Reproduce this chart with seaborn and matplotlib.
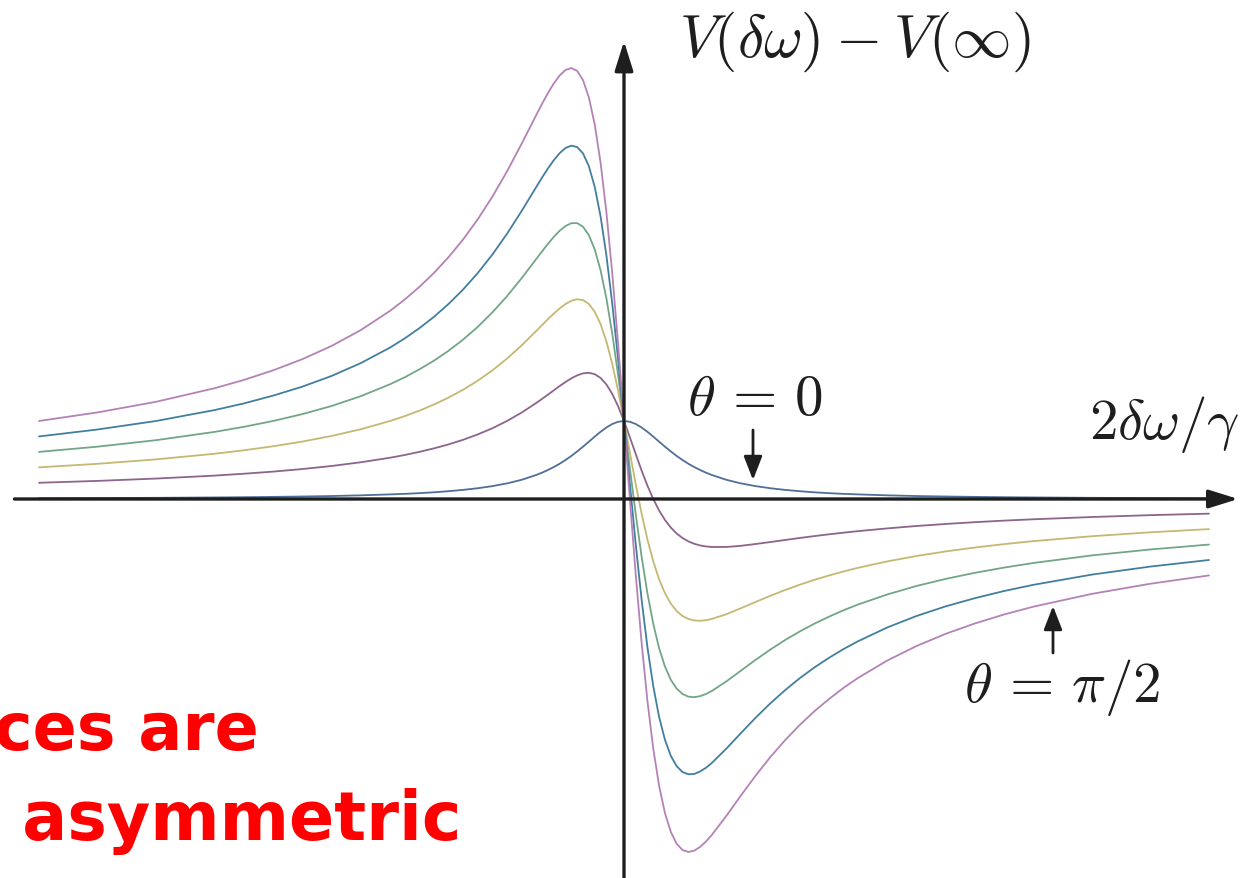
import numpy as np
import pandas as pd
import matplotlib
matplotlib.use("Agg")
import matplotlib.pyplot as plt
import seaborn as sns

# Normalised detuning 2*delta_omega/gamma
detuning = [-10, -9, -8, -7, -6.5, -6, -5.5, -5, -4.5, -4,
            -3.75, -3.5, -3.25, -3, -2.75, -2.5, -2.25, -2, -1.75,
            -1.5, -1.4, -1.3, -1.2, -1.1, -1.0, -0.9, -0.8, -0.7, -0.6,
            -0.5, -0.4, -0.3, -0.2, -0.1,
            0,
            0.1, 0.2, 0.3, 0.4, 0.5, 0.6, 0.7, 0.8, 0.9, 1.0,
            1.1, 1.2, 1.3, 1.4, 1.5,
            1.75, 2, 2.25, 2.5, 2.75, 3, 3.25, 3.5, 3.75,
            4, 4.5, 5, 5.5, 6, 6.5, 7, 8, 9, 10]

# V(delta_omega) - V(inf) for each line shape, from theta = 0 to theta = pi/2
shape_0 = [0.010, 0.012, 0.015, 0.020, 0.023, 0.027, 0.032, 0.038, 0.047, 0.059,
           0.066, 0.075, 0.086, 0.100, 0.117, 0.138, 0.165, 0.200, 0.246,
           0.308, 0.338, 0.372, 0.410, 0.452, 0.500, 0.552, 0.610, 0.671, 0.735,
           0.800, 0.862, 0.917, 0.962, 0.990,
           1.000,
           0.990, 0.962, 0.917, 0.862, 0.800, 0.735, 0.671, 0.610, 0.552, 0.500,
           0.452, 0.410, 0.372, 0.338, 0.308,
           0.246, 0.200, 0.165, 0.138, 0.117, 0.100, 0.086, 0.075, 0.066,
           0.059, 0.047, 0.038, 0.032, 0.027, 0.023, 0.020, 0.015, 0.012, 0.010]
shape_1 = [0.208, 0.232, 0.262, 0.300, 0.324, 0.351, 0.384, 0.423, 0.471, 0.529,
           0.564, 0.604, 0.649, 0.700, 0.759, 0.828, 0.907, 1.000, 1.108,
           1.231, 1.284, 1.338, 1.393, 1.448, 1.500, 1.547, 1.585, 1.611, 1.618,
           1.600, 1.552, 1.468, 1.346, 1.188,
           1.000,
           0.792, 0.577, 0.367, 0.172, 0.000, -0.147, -0.269, -0.366, -0.442, -0.500,
           -0.543, -0.574, -0.595, -0.608, -0.615,
           -0.615, -0.600, -0.577, -0.552, -0.526, -0.500, -0.476, -0.453, -0.432,
           -0.412, -0.377, -0.346, -0.320, -0.297, -0.277, -0.260, -0.231, -0.207, -0.188]
shape_2 = [0.406, 0.451, 0.508, 0.580, 0.624, 0.676, 0.736, 0.808, 0.894, 1.000,
           1.062, 1.132, 1.211, 1.300, 1.401, 1.517, 1.649, 1.800, 1.969,
           2.154, 2.230, 2.305, 2.377, 2.443, 2.500, 2.541, 2.561, 2.550, 2.500,
           2.400, 2.241, 2.018, 1.731, 1.386,
           1.000,
           0.594, 0.192, -0.184, -0.517, -0.800, -1.029, -1.208, -1.341, -1.436, -1.500,
           -1.538, -1.557, -1.561, -1.554, -1.538,
           -1.477, -1.400, -1.320, -1.241, -1.168, -1.100, -1.038, -0.981, -0.930,
           -0.882, -0.800, -0.731, -0.672, -0.622, -0.578, -0.540, -0.477, -0.427, -0.386]
shape_3 = [0.604, 0.671, 0.754, 0.860, 0.925, 1.000, 1.088, 1.192, 1.318, 1.471,
           1.560, 1.661, 1.773, 1.900, 2.044, 2.207, 2.392, 2.600, 2.831,
           3.077, 3.176, 3.271, 3.361, 3.439, 3.500, 3.536, 3.537, 3.490, 3.382,
           3.200, 2.931, 2.569, 2.115, 1.584,
           1.000,
           0.396, -0.192, -0.734, -1.207, -1.600, -1.912, -2.148, -2.317, -2.431, -2.500,
           -2.534, -2.541, -2.528, -2.500, -2.462,
           -2.338, -2.200, -2.062, -1.931, -1.810, -1.700, -1.600, -1.510, -1.427,
           -1.353, -1.224, -1.115, -1.024, -0.946, -0.879, -0.820, -0.723, -0.647, -0.584]
shape_4 = [0.802, 0.891, 1.000, 1.140, 1.225, 1.325, 1.440, 1.577, 1.742, 1.941,
           2.058, 2.189, 2.335, 2.500, 2.686, 2.897, 3.134, 3.400, 3.692,
           4.000, 4.122, 4.238, 4.344, 4.434, 4.500, 4.530, 4.512, 4.430, 4.265,
           4.000, 3.621, 3.119, 2.500, 1.782,
           1.000,
           0.198, -0.577, -1.284, -1.897, -2.400, -2.794, -3.087, -3.293, -3.425, -3.500,
           -3.529, -3.525, -3.494, -3.446, -3.385,
           -3.200, -3.000, -2.804, -2.621, -2.453, -2.300, -2.162, -2.038, -1.925,
           -1.824, -1.647, -1.500, -1.376, -1.271, -1.179, -1.100, -0.969, -0.866, -0.782]
shape_5 = [1.000, 1.110, 1.246, 1.420, 1.526, 1.649, 1.792, 1.962, 2.165, 2.412,
           2.556, 2.718, 2.897, 3.100, 3.328, 3.586, 3.876, 4.200, 4.554,
           4.923, 5.068, 5.204, 5.328, 5.430, 5.500, 5.525, 5.488, 5.369, 5.147,
           4.800, 4.310, 3.670, 2.885, 1.980,
           1.000,
           0.000, -0.962, -1.835, -2.586, -3.200, -3.676, -4.027, -4.268, -4.420, -4.500,
           -4.525, -4.508, -4.461, -4.392, -4.308,
           -4.062, -3.800, -3.546, -3.310, -3.095, -2.900, -2.724, -2.567, -2.423,
           -2.294, -2.071, -1.885, -1.728, -1.595, -1.480, -1.380, -1.216, -1.086, -0.980]

shape_names = ["s0", "s1", "s2", "s3", "s4", "s5"]
shape_colors = ["#4f6f98", "#8c648c", "#c4b872", "#72a686", "#427f9f", "#b482b6"]

frames = []
for name, vals in zip(shape_names, [shape_0, shape_1, shape_2, shape_3, shape_4, shape_5]):
    frames.append(pd.DataFrame({"x": detuning, "v": vals, "shape": name}))
df = pd.concat(frames, ignore_index=True)

sns.set_theme(style="white")
plt.rcParams["mathtext.fontset"] = "cm"
plt.rcParams["font.family"] = ["DejaVu Sans"]

W, H = 1243, 879
fig = plt.figure(figsize=(W / 100, H / 100), dpi=100)
ax = fig.add_axes([0, 0, 1, 1])
ax.set_xlim(-624 / 58.5, (W - 624) / 58.5)
ax.set_ylim((500 - H) / 78, 500 / 78)
ax.axis("off")

sns.lineplot(data=df, x="x", y="v", hue="shape", palette=shape_colors,
             hue_order=shape_names, sort=False, estimator=None, legend=False,
             lw=1.3, ax=ax)

axis_color = "#1e1e1e"
head = "-|>,head_length=0.9,head_width=0.28"
ax.annotate("", xy=(10.5, 0), xytext=(-10.42, 0),
            arrowprops=dict(arrowstyle=head, lw=2.4, color=axis_color,
                            mutation_scale=20, shrinkA=0, shrinkB=0))
ax.annotate("", xy=(0, 5.87), xytext=(0, -4.9),
            arrowprops=dict(arrowstyle=head, lw=2.4, color=axis_color,
                            mutation_scale=20, shrinkA=0, shrinkB=0))

def px(xp, yp):
    return xp / W, 1 - yp / H

label_kw = dict(transform=fig.transFigure, color="#1e1e1e")
fig.text(*px(679, 42), r"$V(\delta\omega)\:-\:V(\infty)$", fontsize=43,
         ha="left", va="center", **label_kw)
fig.text(*px(1089, 425), r"$2\delta\omega/\gamma$", fontsize=41,
         ha="left", va="center", **label_kw)
fig.text(*px(755, 400), r"$\theta\,=\,0$", fontsize=41,
         ha="center", va="center", **label_kw)
fig.text(*px(1062, 688), r"$\theta\,=\,\pi/2$", fontsize=41,
         ha="center", va="center", **label_kw)

small_head = "-|>,head_length=0.9,head_width=0.35"
ax.annotate("", xy=px(753, 481), xytext=px(753, 431), xycoords="figure fraction",
            textcoords="figure fraction",
            arrowprops=dict(arrowstyle=small_head, lw=2.0, color=axis_color,
                            mutation_scale=16, shrinkA=0, shrinkB=0))
ax.annotate("", xy=px(1053, 607), xytext=px(1053, 654), xycoords="figure fraction",
            textcoords="figure fraction",
            arrowprops=dict(arrowstyle=small_head, lw=2.0, color=axis_color,
                            mutation_scale=16, shrinkA=0, shrinkB=0))

red_kw = dict(transform=fig.transFigure, color="#ff0000",
              fontweight="bold", ha="right", va="baseline",
              family=["DejaVu Sans"])
fig.text(*px(259, 750), "Resonances are", fontsize=47, **red_kw)
fig.text(*px(461, 840), "very\u2002asymmetric", fontsize=48, **red_kw)

fig.savefig("out.png", dpi=100, facecolor="white")
